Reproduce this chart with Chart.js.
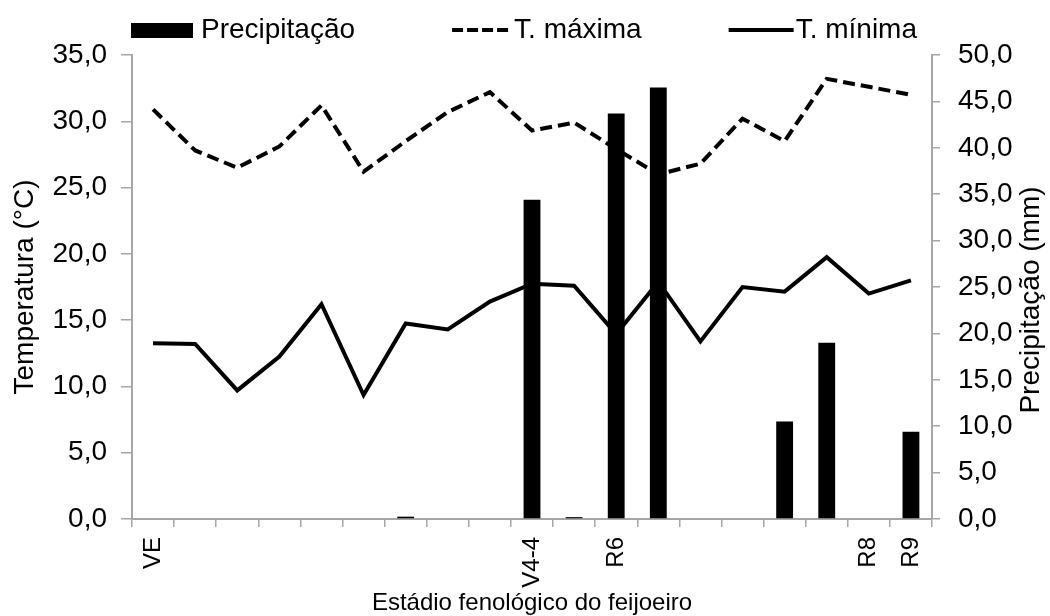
<!DOCTYPE html>
<html>
<head>
<meta charset="utf-8">
<script src="https://cdn.jsdelivr.net/npm/chart.js@4"></script>
<style>
  body { margin: 0; background: #fff; }
  #wrap { width: 1050px; height: 616px; }
</style>
</head>
<body>
<div id="wrap"><canvas id="climaChart"></canvas></div>
<script>
const stages = ['VE', '', '', '', '', '', '', '', '', 'V4-4', '', 'R6', '', '', '', '', '', 'R8', 'R9'];
const precipitacao = [0, 0, 0, 0, 0, 0, 0.25, 0, 0, 34.4, 0.2, 43.7, 46.5, 0, 0, 10.5, 19.0, 0, 9.4];
const tMaxima = [30.9, 27.8, 26.5, 28.1, 31.2, 26.2, 28.5, 30.7, 32.2, 29.3, 29.9, 27.9, 26.0, 26.8, 30.2, 28.5, 33.2, 32.6, 32.0];
const tMinima = [13.25, 13.2, 9.7, 12.25, 16.2, 9.35, 14.75, 14.3, 16.4, 17.75, 17.6, 13.95, 17.9, 13.4, 17.5, 17.15, 19.75, 17.0, 18.0];
const tempTicks = [0, 5, 10, 15, 20, 25, 30, 35];
const precTicks = [0, 5, 10, 15, 20, 25, 30, 35, 40, 45, 50];

const FONT = 'Liberation Sans, Arial, sans-serif';
const axisGray = '#a6a6a6';

function virgula(v) {
    return v.toFixed(1).replace('.', ',');
}

// legend + right title drawn by hand (Chart.js legend padding is shared)
const extras = {
    id: 'extras',
    afterDraw(chart) {
        const ctx = chart.ctx;
        const area = chart.chartArea;
        ctx.save();
        ctx.font = '28px ' + FONT;
        ctx.fillStyle = '#000';
        ctx.strokeStyle = '#000';
        ctx.textBaseline = 'alphabetic';
        const base = 38;
        const midY = 30;
        let x = area.left - 1;

        ctx.fillRect(x, 23, 62, 15);
        x += 62 + 8;
        ctx.fillText('Precipitação', x, base);
        x += ctx.measureText('Precipitação').width + 97;

        ctx.lineWidth = 4;
        ctx.setLineDash([11, 4]);
        ctx.beginPath();
        ctx.moveTo(x, midY);
        ctx.lineTo(x + 60, midY);
        ctx.stroke();
        x += 62;
        ctx.fillText('T. máxima', x, base);
        x += ctx.measureText('T. máxima').width + 87;

        ctx.setLineDash([]);
        ctx.beginPath();
        ctx.moveTo(x, midY);
        ctx.lineTo(x + 65, midY);
        ctx.stroke();
        x += 67;
        ctx.fillText('T. mínima', x, base);

        // right axis title, reading bottom to top
        ctx.translate(1031, 300);
        ctx.rotate(-Math.PI / 2);
        ctx.textAlign = 'center';
        ctx.textBaseline = 'middle';
        ctx.fillText('Precipitação (mm)', 0, 0);
        ctx.restore();
    }
};

const ctx = document.getElementById('climaChart').getContext('2d');
new Chart(ctx, {
    type: 'bar',
    data: {
        labels: stages,
        datasets: [
            {
                type: 'line',
                label: 'T. máxima',
                data: tMaxima,
                yAxisID: 'y',
                borderColor: '#000',
                borderWidth: 4,
                borderDash: [12, 6],
                pointRadius: 0,
                tension: 0,
                order: 1
            },
            {
                type: 'line',
                label: 'T. mínima',
                data: tMinima,
                yAxisID: 'y',
                borderColor: '#000',
                borderWidth: 4,
                pointRadius: 0,
                tension: 0,
                order: 1
            },
            {
                type: 'bar',
                label: 'Precipitação',
                data: precipitacao,
                yAxisID: 'y1',
                backgroundColor: '#000',
                barPercentage: 0.4,
                categoryPercentage: 1,
                order: 2
            }
        ]
    },
    options: {
        responsive: true,
        maintainAspectRatio: false,
        animation: false,
        layout: { padding: { top: 55, left: 0, right: 0, bottom: 0 } },
        plugins: {
            legend: { display: false },
            tooltip: { enabled: false }
        },
        scales: {
            x: {
                afterFit: function (scale) { scale.height = 97; },
                grid: { drawOnChartArea: false, tickLength: 8, color: axisGray, lineWidth: 1.5 },
                border: { color: axisGray, width: 2 },
                ticks: {
                    autoSkip: false,
                    maxRotation: 90,
                    minRotation: 90,
                    padding: 10,
                    color: '#000',
                    font: { family: FONT, size: 24 }
                },
                title: {
                    display: true,
                    text: 'Estádio fenológico do feijoeiro',
                    color: '#000',
                    font: { family: FONT, size: 24 },
                    padding: { top: 0, bottom: -2 }
                }
            },
            y: {
                position: 'left',
                min: 0,
                max: 35,
                afterFit: function (scale) { scale.width = 132; },
                afterBuildTicks: function (scale) { scale.ticks = tempTicks.map(v => ({ value: v })); },
                grid: { drawOnChartArea: false, tickLength: 11, color: axisGray, lineWidth: 1.5 },
                border: { color: axisGray, width: 2 },
                ticks: {
                    padding: 14,
                    color: '#000',
                    font: { family: FONT, size: 28 },
                    callback: v => virgula(v)
                },
                title: {
                    display: true,
                    text: 'Temperatura (°C)',
                    color: '#000',
                    font: { family: FONT, size: 28 },
                    padding: { top: 8, bottom: 0 }
                }
            },
            y1: {
                position: 'right',
                min: 0,
                max: 50,
                afterFit: function (scale) { scale.width = 118; },
                afterBuildTicks: function (scale) { scale.ticks = precTicks.map(v => ({ value: v })); },
                grid: { drawOnChartArea: false, tickLength: 8, color: axisGray, lineWidth: 1.5 },
                border: { color: axisGray, width: 2 },
                ticks: {
                    padding: 18,
                    color: '#000',
                    font: { family: FONT, size: 28 },
                    callback: v => virgula(v)
                }
            }
        }
    },
    plugins: [extras]
});
</script>
</body>
</html>
